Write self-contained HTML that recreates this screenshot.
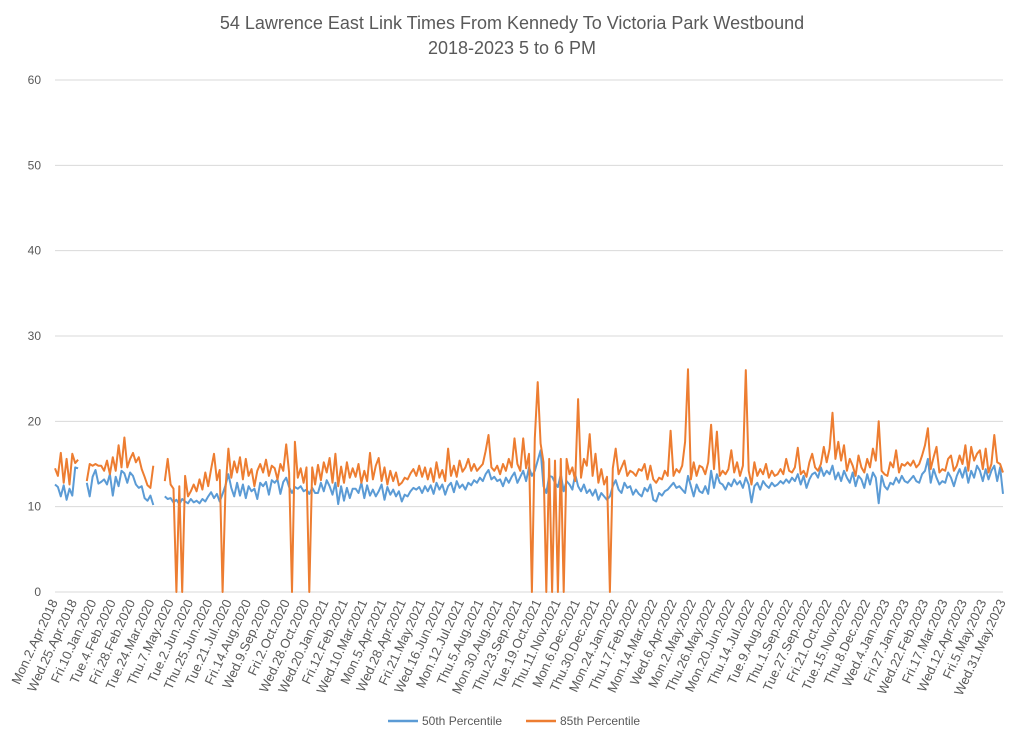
<!DOCTYPE html>
<html><head><meta charset="utf-8"><style>
body{margin:0;background:#fff;}
svg{display:block;font-family:"Liberation Sans",sans-serif;}
</style></head><body>
<svg id="chart" width="1024" height="743">
<text x="512" y="29" text-anchor="middle" font-size="18" fill="#595959">54 Lawrence East Link Times From Kennedy To Victoria Park Westbound</text>
<text x="512" y="54" text-anchor="middle" font-size="18" fill="#595959">2018-2023 5 to 6 PM</text>
<g id="grid"></g><g id="yticks"></g><g id="xlabels"></g><g id="series"></g>
<g>
<line x1="388" y1="721" x2="418" y2="721" stroke="#5B9BD5" stroke-width="2.5"/>
<text x="422" y="725" font-size="12" fill="#595959">50th Percentile</text>
<line x1="526" y1="721" x2="556" y2="721" stroke="#ED7D31" stroke-width="2.5"/>
<text x="560" y="725" font-size="12" fill="#595959">85th Percentile</text>
</g>
</svg>
<script>
const yTicks=[0,10,20,30,40,50,60];
const xLabels=["Mon.2.Apr.2018","Wed.25.Apr.2018","Fri.10.Jan.2020","Tue.4.Feb.2020","Fri.28.Feb.2020","Tue.24.Mar.2020","Thu.7.May.2020","Tue.2.Jun.2020","Thu.25.Jun.2020","Tue.21.Jul.2020","Fri.14.Aug.2020","Wed.9.Sep.2020","Fri.2.Oct.2020","Wed.28.Oct.2020","Wed.20.Jan.2021","Fri.12.Feb.2021","Wed.10.Mar.2021","Mon.5.Apr.2021","Wed.28.Apr.2021","Fri.21.May.2021","Wed.16.Jun.2021","Mon.12.Jul.2021","Thu.5.Aug.2021","Mon.30.Aug.2021","Thu.23.Sep.2021","Tue.19.Oct.2021","Thu.11.Nov.2021","Mon.6.Dec.2021","Thu.30.Dec.2021","Mon.24.Jan.2022","Thu.17.Feb.2022","Mon.14.Mar.2022","Wed.6.Apr.2022","Mon.2.May.2022","Thu.26.May.2022","Mon.20.Jun.2022","Thu.14.Jul.2022","Tue.9.Aug.2022","Thu.1.Sep.2022","Tue.27.Sep.2022","Fri.21.Oct.2022","Tue.15.Nov.2022","Thu.8.Dec.2022","Wed.4.Jan.2023","Fri.27.Jan.2023","Wed.22.Feb.2023","Fri.17.Mar.2023","Wed.12.Apr.2023","Fri.5.May.2023","Wed.31.May.2023"];
const p50=[12.6,12.3,11.2,12.5,10.8,12.1,11.3,14.6,
14.5,null,null,12.8,11.2,13.5,14.3,12.7,
12.9,13.2,12.6,13.8,11.3,13.5,12.4,14.2,
13.9,12.8,14,13.6,12.6,12.2,12.4,11.0,
10.7,11.3,10.2,null,null,null,11.2,10.9,
11,10.5,10.8,10.3,10.9,10.6,10.4,10.9,
10.5,10.7,10.4,10.9,10.6,11.2,11.7,11.0,
11.5,10.6,11.5,12.5,13.8,12.2,11.2,12.8,
11.3,12.6,11.0,12.4,11.8,12.1,10.9,12.8,
12.4,12.9,11.4,13.1,12.8,13.2,11.5,12.9,
13.4,12.3,11.6,12.3,12.1,12.4,11.8,12.0,
11.5,12.2,11.6,11.6,12.8,11.8,13.1,12.4,
11.4,12.8,10.3,12.4,10.7,12.2,11.0,12.1,
12.1,11.6,12.8,11.0,12.5,11.3,12.0,11.2,
11.8,12.6,10.8,12.3,11.4,12.0,11.2,11.8,
10.6,11.4,11.2,11.8,12.2,12.0,12.3,11.6,
12.4,11.8,12.5,11.5,12.8,12.0,12.6,11.4,
12.4,12.8,11.7,13.0,12.2,12.6,12.0,12.8,
12.5,13.1,12.8,13.4,13.0,13.8,14.3,13.2,
13.5,13.0,13.2,12.4,13.4,12.8,13.5,14.0,
12.8,13.5,14.2,13.0,14.6,13.6,14.2,15.4,
16.6,12.4,11.6,13.6,13.5,12.8,12.3,13.8,
11.8,13.0,12.6,12.0,13.8,12.4,11.8,12.6,
11.6,12.0,11.3,12.0,10.8,11.6,11.2,10.8,
11.2,12.4,13.1,12.0,11.6,12.8,12.2,12.4,
11.4,12.0,11.5,11.2,12.2,11.8,12.6,10.8,
10.6,11.6,11.3,11.8,12.0,12.4,12.8,12.2,
12.4,12.0,11.6,13.6,12.4,11.2,12.6,11.8,
11.6,12.4,11.5,14.2,12.2,13.8,12.8,12.6,
12.0,12.8,12.4,13.2,12.6,13.0,12.2,13.4,
12.6,10.5,12.4,12.8,12.0,13.0,12.5,12.2,
12.8,12.4,12.6,13.0,12.7,13.2,12.8,13.4,
13.0,13.8,12.6,13.6,12.2,13.2,13.8,14.0,
13.4,14.6,13.6,14.2,13.8,14.8,13.2,14.0,
13.0,14.2,13.4,12.8,14.0,12.4,13.6,13.2,
12.2,13.8,12.6,14.0,13.4,10.4,13.6,12.4,
12.0,12.8,12.6,13.4,12.8,13.6,13.0,12.8,
13.2,13.6,13.0,12.8,13.8,14.2,15.6,12.8,
14.4,13.4,12.6,13.0,12.8,14.0,13.4,12.4,
13.6,14.4,13.4,14.6,12.8,14.2,13.4,14.8,
14.2,13.0,14.4,13.2,14.2,14.8,13.0,14.6,
11.5];
const p85=[14.5,13.6,16.3,12.8,15.6,12.6,16.2,15.1,
15.5,null,null,13,15,14.8,15,14.8,
14.8,14.2,15.4,13.8,15.8,14.2,17.2,14.6,
18.1,14.6,15.6,16.3,15.2,15.8,14.4,13.5,
12.5,12.2,14.8,null,null,null,13.0,15.6,
12.6,12.1,0,12.4,0,13.6,11.2,11.8,
12.6,11.8,13.2,12.0,14.0,12.4,14.4,16.2,
13.1,14.3,0,12.1,16.8,13.4,15.3,14.0,
15.8,13.2,15.6,13.6,14.4,12.4,14.2,15.0,
14.0,15.5,13.6,14.8,14.5,13.2,15.0,14.2,
17.3,14.0,0,17.6,13.4,14.5,12.8,14.6,
0,14.6,12.6,14.9,13.1,15.2,14.0,15.7,
12.8,16.2,12.4,14.7,12.8,15.2,13.4,14.5,
13.5,15.0,12.8,14.2,13.0,16.3,13.2,14.8,
15.7,13.0,14.6,12.6,14.2,13.0,14.0,12.5,
12.8,13.4,13.2,13.9,14.4,13.6,14.8,13.5,
14.6,13.2,14.5,12.9,15.2,13.4,14.3,13.0,
16.8,13.6,14.8,13.5,15.4,14.1,14.6,15.6,
14.2,15.0,14.2,14.6,15.0,16.5,18.4,14.6,
14.2,14.8,13.8,15.0,14.2,15.6,14.6,18.0,
15.0,14.2,18.0,14.5,16.2,0,18.0,24.6,
17.4,15.2,0,15.6,0,15.4,0,15.6,
0,15.6,13.8,14.6,13.0,22.6,13.4,15.6,
14.8,18.5,13.6,16.2,12.8,14.4,12.6,13.5,
0,14.5,16.8,13.8,14.6,15.4,13.6,14.2,
14.0,13.6,14.4,14.2,15.0,13.2,14.8,13.2,
12.8,13.4,13.2,14.2,13.6,18.9,13.6,14.4,
14.0,14.8,17.6,26.1,13.2,15.2,13.6,14.8,
14.6,13.8,15.2,19.6,14.4,18.8,13.6,14.2,
13.8,14.4,16.6,14.0,15.2,13.6,14.8,26.0,
14.2,12.6,15.2,13.6,14.4,13.8,15.0,13.4,
14.2,13.6,13.8,14.4,13.8,15.6,14.2,14.0,
14.6,16.9,13.8,14.2,13.5,15.2,16.2,14.6,
14.2,15.0,17.0,15.2,16.8,21.0,15.6,17.6,
15.4,17.2,14.2,15.6,14.8,13.6,16.0,14.6,
14.0,15.6,14.6,16.8,15.4,20.0,14.2,13.8,
13.6,15.2,14.6,16.6,14.0,15.0,14.8,15.2,
14.8,15.4,14.6,15.0,16.0,17.2,19.2,14.4,
15.8,17.0,14.0,14.4,14.2,15.6,16.0,14.2,
14.8,16.0,15.0,17.2,14.2,17.0,15.4,16.2,
16.6,14.4,16.8,14.0,15.0,18.4,15.2,15.0,
14.0];

const NS="http://www.w3.org/2000/svg";
const X0=55,X1=1003,Y0=592,Y1=80,YMAX=60;
const yScale=v=>Y0-(v/YMAX)*(Y0-Y1);
const xScale=i=>X0+i*(X1-X0)/(p50.length-1);
const labelX=i=>X0+i*(X1-X0)/(xLabels.length-1);
function mk(tag,attrs,parent){const e=document.createElementNS(NS,tag);for(const k in attrs)e.setAttribute(k,attrs[k]);parent.appendChild(e);return e;}
const grid=document.getElementById('grid'),yt=document.getElementById('yticks'),xl=document.getElementById('xlabels'),ser=document.getElementById('series');
yTicks.forEach(t=>{
  const l=mk('line',{x1:X0,x2:X1,y1:yScale(t),y2:yScale(t),stroke:'#d9d9d9','stroke-width':1},grid);
  
  
  const tx=mk('text',{x:41,y:yScale(t)+4,'text-anchor':'end','font-size':12,fill:'#595959'},yt);
  tx.textContent=t;
  
  
});
xLabels.forEach((s,i)=>{
  const x=labelX(i)+3,y=602;
  const tx=mk('text',{x:x,y:y,'text-anchor':'end','font-size':13,fill:'#595959',transform:`rotate(-65 ${x} ${y})`},xl);
  tx.textContent=s;
  
  
});
function path(arr){let d='',pen=false;arr.forEach((v,i)=>{if(v===null){pen=false;return;}d+=(pen?'L':'M')+xScale(i).toFixed(1)+' '+yScale(v).toFixed(1);pen=true;});return d;}
const s1=mk('path',{d:path(p50),fill:'none',stroke:'#5B9BD5','stroke-width':2,'stroke-linejoin':'round'},ser);


const s2=mk('path',{d:path(p85),fill:'none',stroke:'#ED7D31','stroke-width':2,'stroke-linejoin':'round'},ser);


</script>
</body></html>
